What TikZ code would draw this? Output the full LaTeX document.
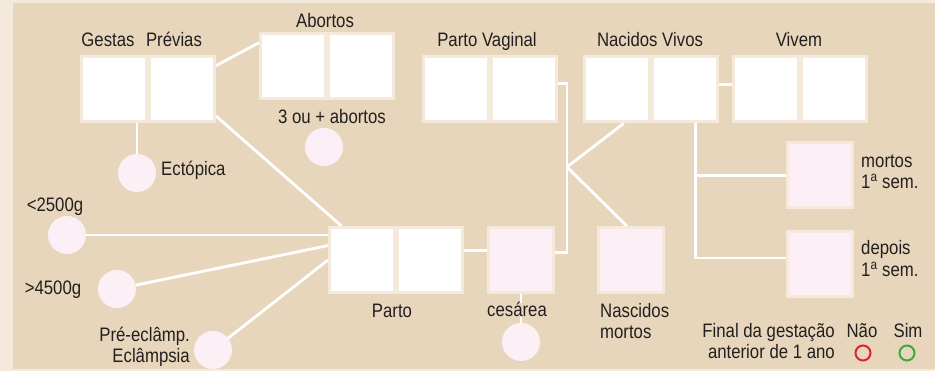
\documentclass[tikz,border=0pt]{standalone}
\usepackage{fontspec}
\setmainfont[FakeStretch=0.86]{Liberation Sans}
\usetikzlibrary{positioning}
\definecolor{bgtan}{HTML}{E7D6BB}
\definecolor{margin}{HTML}{F3EADC}
\definecolor{rim}{HTML}{F4E9DA}
\definecolor{rosa}{HTML}{FCF0F6}
\definecolor{ink}{HTML}{231F20}
\definecolor{nao}{HTML}{D9262E}
\definecolor{sim}{HTML}{3DAA3A}

\begin{document}
\begin{tikzpicture}[x=1pt,y=-1pt,
  box/.style={draw=rim,line width=3pt,fill=white,minimum size=65pt,inner sep=0pt},
  pbox/.style={box,fill=rosa},
  dot/.style={circle,fill=rosa,minimum size=38pt,inner sep=0pt},
  ring/.style={circle,line width=2pt,minimum size=15pt,inner sep=0pt},
  lbl/.style={inner sep=0pt,text=ink,font=\fontsize{19.5}{22}\selectfont},
  link/.style={white,line width=2.8pt}]
\useasboundingbox (0,0) rectangle (935,371);
\fill[margin] (0,0) rectangle (935,371);
\fill[bgtan] (13,3) rectangle (935,369);

% boxes
\node[box] (g1) at (114,89.5) {};
\node[box,right=0pt of g1] (g2) {};
\node[box] (a1) at (293,66.5) {};
\node[box,right=0pt of a1] (a2) {};
\node[box] (pv1) at (456,89.5) {};
\node[box,right=0pt of pv1] (pv2) {};
\node[box] (nv1) at (617,89.5) {};
\node[box,right=0pt of nv1] (nv2) {};
\node[box] (v1) at (766,89.5) {};
\node[box,right=0pt of v1] (v2) {};
\node[box] (p1) at (362,260) {};
\node[box,right=0pt of p1] (p2) {};
\node[pbox] (ces) at (521,260) {};
\node[pbox] (nm) at (631,260) {};
\node[pbox] (mort) at (820,175.5) {};
\node[pbox] (dep) at (820,264) {};

% circles
\node[dot] (ect) at (137,173) {};
\node[dot] (ab3) at (324,147) {};
\node[dot] (lt) at (67,235) {};
\node[dot] (gt) at (117,289) {};
\node[dot] (pre) at (213,350) {};
\node[dot] (cesc) at (521,342) {};
\coordinate (jn) at (567,167);

% links
\draw[link] (g2.35) -- (a1.145);
\draw[link] (ect) -- (ect |- g1.south);
\draw[link] (g2.-38) -- (p1.121);
\draw[link] (lt) -- (lt -| p1.west);
\draw[link] (gt) -- (p1.157);
\draw[link] (pre) -- (p1.west);
\draw[link] (p2.15) -- (ces.165);
\draw[link] (pv2.10) -- (pv2.10 -| jn) -- (jn |- ces.12) -- (ces.12);
\draw[link] (jn) -- (nv1.-79);
\draw[link] (jn) -- (nm.97);
\draw[link] (nv2.8) -- (v1.172);
\draw[link] (nv2.-73) |- (dep.170);
\draw[link] (mort.west) -- (mort.west -| nv2.-73);
\draw[link] (ces) -- (cesc);

% labels
\node[lbl,anchor=base] (lgestas) at (108,47) {Gestas};
\node[lbl,anchor=base] (lprev) at (174,47) {Prévias};
\node[lbl,anchor=base] (labort) at (325,28) {Abortos};
\node[lbl,anchor=base] (l3ab) at (332,124) {3 ou + abortos};
\node[lbl,anchor=base west] (lect) at (161,176) {Ectópica};
\node[lbl,anchor=base] (lpv) at (487,47) {Parto Vaginal};
\node[lbl,anchor=base] (lnv) at (650,47) {Nacidos Vivos};
\node[lbl,anchor=base] (lviv) at (799,47) {Vivem};
\node[lbl,anchor=base] (llt) at (55,212) {<2500g};
\node[lbl,anchor=base] (lgt) at (53,295) {>4500g};
\node[lbl,anchor=base east] (lpre1) at (190,342) {Pré-eclâmp.};
\node[lbl,anchor=base east] (lpre2) at (190,363) {Eclâmpsia};
\node[lbl,anchor=base] (lparto) at (392,318) {Parto};
\node[lbl,anchor=base,fill=bgtan] (lces) at (517,317) {cesárea};
\node[lbl,anchor=base west] (lnm1) at (600,318) {Nascidos};
\node[lbl,anchor=base west] (lnm2) at (600,339) {mortos};
\node[lbl,anchor=base west] (lmort1) at (861,168) {mortos};
\node[lbl,anchor=base west] (lmort2) at (861,189) {1\textsuperscript{a} sem.};
\node[lbl,anchor=base west] (ldep1) at (861,255) {depois};
\node[lbl,anchor=base west] (ldep2) at (861,277) {1\textsuperscript{a} sem.};
\node[lbl,anchor=base east] (lfin1) at (835,338) {Final da gestação};
\node[lbl,anchor=base east] (lfin2) at (835,359) {anterior de 1 ano};
\node[lbl,anchor=base] (lnao) at (862,338) {Não};
\node[lbl,anchor=base] (lsim) at (908,338) {Sim};
\node[ring,draw=nao] (cnao) at (863,353) {};
\node[ring,draw=sim] (csim) at (907,353) {};
\end{tikzpicture}
\end{document}
